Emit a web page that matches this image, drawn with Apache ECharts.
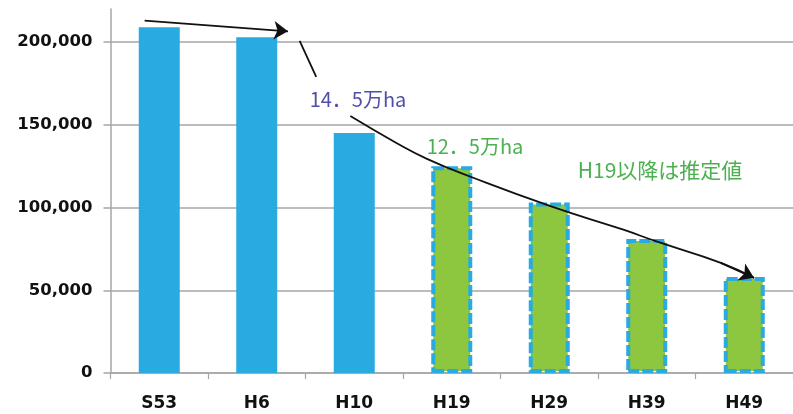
<!DOCTYPE html>
<html>
<head>
<meta charset="utf-8">
<script src="https://cdn.jsdelivr.net/npm/echarts@6/dist/echarts.min.js"></script>
<style>
  html, body { margin: 0; padding: 0; background: #fff; }
  #chart { width: 793px; height: 414px; }
</style>
</head>
<body>
<div id="chart"></div>
<script>
// Area (ha) by survey year; later years are estimates
const years = ['S53', 'H6', 'H10', 'H19', 'H29', 'H39', 'H49'];
const actualArea = [209000, 203000, 145000, null, null, null, null];
const estimatedArea = [null, null, null, 125000, 103000, 81000, 58000];
const yTicks = [0, 50000, 100000, 150000, 200000];

// Annotation paths, in (category index, area) units
const topArrow = [[-0.15, 213000], [1.32, 206500]];
const labelLeader = [[1.44, 200800], [1.61, 179000]];
const trendPath = [
  [1.96, 155300], [2.41, 139800], [2.74, 129600], [3.22, 118000],
  [4.02, 100700], [4.76, 86600], [5.10, 79500], [5.76, 66600], [6.10, 57500]
];

const BLUE = '#29abe2';
const GREEN = '#8dc63f';
const GRID_GRAY = '#a6a6a6';
const LABEL_FONT = 'DejaVu Sans';
const CJK_FONT = '"Noto Sans CJK JP"';

const chart = echarts.init(document.getElementById('chart'), null, { renderer: 'canvas' });

chart.setOption({
  animation: false,
  backgroundColor: '#ffffff',
  grid: { left: 110.5, top: 9, width: 696, bottom: 41, containLabel: false },
  xAxis: [
    {
      type: 'category',
      data: years,
      axisLine: { lineStyle: { color: GRID_GRAY, width: 1.5 } },
      axisTick: { show: true, length: 6, lineStyle: { color: GRID_GRAY, width: 1.2 } },
      axisLabel: {
        color: '#111', fontFamily: LABEL_FONT, fontWeight: 'bold', fontSize: 17, margin: 22
      },
      splitLine: { show: false }
    },
    { type: 'value', min: -0.5, max: 6.5, show: false }
  ],
  yAxis: {
    type: 'value',
    min: 0, max: 220000, interval: 50000,
    axisLine: { show: true, onZero: false, lineStyle: { color: GRID_GRAY, width: 1.5 } },
    axisTick: { show: true, length: 7, customValues: yTicks, lineStyle: { color: GRID_GRAY, width: 1.5 } },
    axisLabel: {
      customValues: yTicks,
      color: '#111', fontFamily: LABEL_FONT, fontWeight: 'bold', fontSize: 16.5, margin: 18,
      formatter: v => v.toLocaleString('en-US')
    },
    splitLine: { show: true, lineStyle: { color: GRID_GRAY, width: 1.5 } }
  },
  series: [
    {
      name: '実績', type: 'bar', stack: 'area', data: actualArea, barWidth: 41,
      itemStyle: { color: BLUE }, silent: true
    },
    {
      name: '推定', type: 'bar', stack: 'area', data: estimatedArea, barWidth: 41,
      itemStyle: { color: GREEN, borderColor: BLUE, borderWidth: 4, borderType: [11, 3] },
      silent: true
    },
    {
      type: 'line', xAxisIndex: 1, data: labelLeader, symbol: 'none', silent: true, z: 5,
      lineStyle: { color: '#111', width: 1.8 }
    },
    {
      type: 'line', xAxisIndex: 1, data: trendPath, symbol: 'none', smooth: 0.5, silent: true, z: 5,
      lineStyle: { color: '#111', width: 1.8 }
    },
    {
      type: 'lines', coordinateSystem: 'cartesian2d', xAxisIndex: 1, yAxisIndex: 0, z: 6,
      symbol: ['none', 'arrow'], symbolSize: [11, 14], silent: true,
      lineStyle: { color: '#111', width: 1.8, opacity: 1 },
      data: [{ coords: topArrow }, { coords: trendPath.slice(-2) }]
    }
  ],
  graphic: [
    {
      type: 'text', silent: true,
      style: { x: 358, y: 99, text: '14．5万ha', font: '20px ' + CJK_FONT, fill: '#4f4fa8', align: 'center', verticalAlign: 'middle' }
    },
    {
      type: 'text', silent: true,
      style: { x: 475, y: 146, text: '12．5万ha', font: '20px ' + CJK_FONT, fill: '#4cb050', align: 'center', verticalAlign: 'middle' }
    },
    {
      type: 'text', silent: true,
      style: { x: 660, y: 170, text: 'H19以降は推定値', font: '21px ' + CJK_FONT, fill: '#4cb050', align: 'center', verticalAlign: 'middle' }
    }
  ]
});
</script>
</body>
</html>
